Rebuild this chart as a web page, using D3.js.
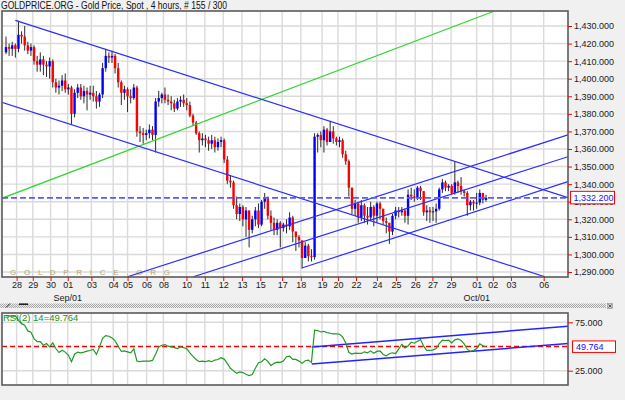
<!DOCTYPE html>
<html>
<head>
<meta charset="utf-8">
<script src="https://cdn.jsdelivr.net/npm/d3@7"></script>
<style>
  html, body { margin: 0; padding: 0; background: #f0f0f0; }
  svg { display: block; font-family: "Liberation Sans", Arial, sans-serif; }
</style>
</head>
<body>
<svg id="chart" width="625" height="400"></svg>
<script>
// ---- data (4h gold spot bars) ----
const firstOpen = 1415;
const closes = [
  1418, 1417, 1419, 1417, 1425, 1424, 1419, 1416, 1418, 1410,
  1408, 1411, 1408, 1407, 1410, 1398, 1395, 1396, 1399, 1394,
  1395, 1380, 1392, 1395, 1390, 1393, 1391, 1392, 1390, 1387,
  1391, 1406, 1413, 1412, 1413, 1406, 1398, 1392, 1394, 1390,
  1389, 1395, 1370, 1369, 1368, 1369, 1371, 1368, 1387, 1389,
  1391, 1388, 1387, 1386, 1383, 1387, 1388, 1386, 1385, 1379,
  1375, 1369, 1365, 1366, 1365, 1363, 1365, 1361, 1364, 1365,
  1354, 1342, 1341, 1328, 1323, 1327, 1320, 1325, 1314, 1320,
  1325, 1317, 1330, 1332, 1322, 1318, 1314, 1318, 1315, 1317,
  1316, 1321, 1313, 1310, 1308, 1298, 1305, 1299, 1298.5, 1367,
  1368, 1365, 1371, 1364, 1370, 1366, 1364, 1365, 1357, 1353,
  1338, 1326, 1329, 1321, 1328, 1322, 1321, 1327, 1322, 1329,
  1326, 1319, 1318, 1313, 1322, 1325, 1324, 1325, 1322, 1334,
  1333, 1332, 1338, 1336, 1324, 1325, 1324, 1324.5, 1326, 1337,
  1341, 1338, 1339, 1335, 1341, 1339, 1336, 1335, 1328, 1330,
  1329, 1329.5, 1335, 1331, 1332.2
];
const highs = [
  1424, 1420, 1421, 1420, 1433, 1427, 1430, 1421, 1420, 1419,
  1413, 1415, 1413, 1410, 1412, 1411, 1400, 1399, 1402, 1403,
  1397, 1396, 1394, 1397, 1397, 1396, 1395, 1396, 1396, 1393,
  1392, 1409, 1417, 1415, 1416, 1414, 1409, 1399, 1396, 1395,
  1394, 1397, 1396, 1373, 1372, 1371, 1374, 1373, 1389, 1393,
  1392, 1395, 1391, 1390, 1388, 1389, 1390, 1391, 1389, 1387,
  1380, 1376, 1370, 1369, 1368, 1367, 1368, 1367, 1366, 1367,
  1366, 1356, 1345, 1342, 1333, 1329, 1328, 1327, 1325, 1322,
  1327, 1329, 1331, 1335, 1333, 1325, 1321, 1320, 1319, 1318,
  1320, 1324, 1322, 1313, 1311, 1308, 1307, 1306, 1303, 1369,
  1369, 1370, 1373, 1372, 1376, 1373, 1367, 1367, 1366, 1359,
  1354, 1338, 1331, 1330, 1331, 1329, 1327, 1330, 1328, 1330,
  1330, 1326, 1321, 1318, 1323, 1327, 1327, 1327, 1326, 1337,
  1338, 1337, 1339, 1339, 1336, 1328, 1327, 1327, 1329, 1338,
  1343, 1342, 1340, 1340, 1353, 1342, 1344, 1337, 1336, 1331,
  1331, 1335, 1337, 1335, 1334
];
const lows = [
  1414, 1413, 1413, 1412, 1415, 1420, 1416, 1414, 1413, 1408,
  1404, 1404, 1402, 1401, 1400, 1395, 1392, 1391, 1393, 1392,
  1391, 1374, 1378, 1389, 1388, 1386, 1382, 1388, 1387, 1383,
  1384, 1389, 1404, 1409, 1409, 1403, 1395, 1385, 1388, 1381,
  1386, 1388, 1367, 1364, 1363, 1365, 1366, 1365, 1358, 1384,
  1386, 1386, 1385, 1382, 1381, 1382, 1384, 1384, 1382, 1378,
  1373, 1368, 1358, 1362, 1361, 1359, 1360, 1358, 1359, 1361,
  1352, 1340, 1338, 1326, 1320, 1319, 1316, 1310, 1304, 1312,
  1316, 1315, 1316, 1326, 1320, 1314, 1311, 1311, 1304, 1313,
  1312, 1314, 1307, 1302, 1304, 1292, 1298, 1296, 1296, 1297,
  1358, 1361, 1358, 1362, 1364, 1363, 1362, 1361, 1355, 1351,
  1333, 1323, 1322, 1318, 1319, 1318, 1317, 1319, 1316, 1318,
  1320, 1317, 1312, 1306, 1311, 1320, 1321, 1322, 1318, 1317,
  1331, 1330, 1331, 1331, 1322, 1319, 1318, 1319, 1318, 1325,
  1335, 1336, 1336, 1334, 1334, 1335, 1334, 1333, 1322, 1325,
  1325, 1326, 1328, 1329, 1330
];
const rsiValues = [
  81.7, 81.7, 81.4, 81.7, 77.0, 73.6, 71.9, 66.1, 64.7, 58.2,
  55.1, 55.1, 51.3, 53.1, 49.6, 53.7, 47.9, 43.8, 46.2, 44.2,
  41.1, 34.3, 42.1, 44.2, 43.5, 44.2, 45.2, 45.9, 46.9, 41.8,
  49.6, 58.5, 61.3, 60.6, 58.9, 55.8, 50.3, 44.9, 45.5, 44.5,
  43.5, 47.6, 35.0, 34.3, 34.9, 34.9, 34.9, 35.6, 42.1, 49.6,
  51.3, 52.0, 50.3, 49.6, 48.9, 47.9, 49.6, 48.9, 47.6, 43.5,
  39.8, 36.6, 34.3, 34.9, 34.3, 35.3, 34.3, 36.0, 36.6, 38.4,
  37.0, 32.6, 27.5, 24.8, 22.4, 23.8, 23.1, 21.4, 20.0, 21.0,
  27.5, 33.2, 34.3, 37.3, 34.6, 30.2, 32.6, 33.9, 33.6, 34.9,
  39.4, 40.1, 36.6, 36.6, 34.9, 32.6, 35.3, 36.0, 33.6, 66.8,
  66.5, 65.0, 65.7, 64.3, 63.7, 63.0, 63.0, 62.7, 59.9, 53.7,
  43.8, 42.1, 43.1, 42.8, 42.8, 44.5, 43.5, 45.5, 43.1, 44.9,
  45.5, 41.8, 40.4, 42.5, 43.5, 42.8, 47.2, 52.4, 48.6, 50.6,
  54.4, 53.4, 55.4, 57.2, 50.3, 45.9, 45.9, 46.5, 47.9, 53.1,
  56.5, 56.2, 56.5, 53.7, 56.9, 57.9, 56.2, 52.7, 47.2, 44.9,
  45.9, 47.9, 52.7, 50.8, 49.764
];

const priceTicks = [1290, 1300, 1310, 1320, 1330, 1340, 1350, 1360, 1370, 1380, 1390, 1400, 1410, 1420, 1430];
const rsiTicks = [25, 75];
const dayLabels = ["28", "29", "30", "01", "03", "04", "05", "06", "08", "10", "11", "12", "13", "15",
  "17", "18", "19", "20", "22", "24", "25", "26", "27", "29", "01", "02", "03", "06"];
const dayBars = [3.4, 8.6, 14.3, 19.8, 27.4, 34.4, 39.0, 45.1, 50.5, 57.9, 63.8, 69.7, 75.7, 81.6,
  88.6, 94.6, 101.4, 106.5, 112.3, 119.0, 125.1, 131.3, 136.8, 142.8, 151.0, 156.2, 162.0, 172.5];
const monthLabels = ["Sep/01", "Oct/01"];
const monthBars = [19.8, 151.0];
const lastPrice = 1332.2;
const lastRsi = 49.764;

// drawn trend lines, as [bar, value] pairs
const channelLines = [
  [[3.0, 1433.2], [180.3, 1332.3]],
  [[-1.4, 1386.6], [172.9, 1287.3]],
  [[39.0, 1287.3], [180.3, 1368.0]],
  [[60.1, 1287.3], [180.3, 1355.6]],
  [[94.9, 1292.3], [180.3, 1341.4]]
];
const greenLine = [[-1.4, 1331.9], [156.1, 1438.1]];
const rsiChannel = [
  [[98.1, 49.6], [180.4, 70.9]],
  [[98.1, 31.8], [180.4, 53.1]]
];

// ---- layout ----
const mainBox = { left: 2, right: 568, top: 11, bottom: 277 };
const rsiBox = { left: 2, right: 568, top: 313, bottom: 385 };

const x = d3.scaleLinear().domain([0, 154]).range([6, 486]);
const y = d3.scaleLinear().domain([1290, 1430]).range([272, 26]);
const ry = d3.scaleLinear().domain([25, 75]).range([370.7, 322.3]);

const svg = d3.select("#chart");
svg.append("rect").attr("width", 625).attr("height", 400).attr("fill", "#f0f0f0");

const defs = svg.append("defs");
defs.append("clipPath").attr("id", "clipMain").append("rect")
  .attr("x", mainBox.left).attr("y", mainBox.top)
  .attr("width", mainBox.right - mainBox.left).attr("height", mainBox.bottom - mainBox.top);
defs.append("clipPath").attr("id", "clipRsi").append("rect")
  .attr("x", rsiBox.left).attr("y", rsiBox.top)
  .attr("width", rsiBox.right - rsiBox.left).attr("height", rsiBox.bottom - rsiBox.top);
const pat = defs.append("pattern").attr("id", "dots")
  .attr("width", 2).attr("height", 2).attr("patternUnits", "userSpaceOnUse");
pat.append("rect").attr("width", 2).attr("height", 2).attr("fill", "#ececec");
pat.append("rect").attr("width", 1).attr("height", 1).attr("fill", "#a8a8a8");
pat.append("rect").attr("x", 1).attr("y", 1).attr("width", 1).attr("height", 1).attr("fill", "#a8a8a8");

// title
svg.append("text")
  .attr("x", 1).attr("y", 9)
  .attr("font-size", 10).attr("fill", "#111")
  .attr("textLength", 226).attr("lengthAdjust", "spacingAndGlyphs")
  .text("GOLDPRICE.ORG - Gold Price, Spot , 4 hours, # 155 / 300");

// ---- main panel ----
svg.append("rect")
  .attr("x", mainBox.left).attr("y", mainBox.top)
  .attr("width", mainBox.right - mainBox.left).attr("height", mainBox.bottom - mainBox.top)
  .attr("fill", "#fff");

const gMain = svg.append("g").attr("clip-path", "url(#clipMain)");

gMain.selectAll(".hgrid").data(priceTicks).join("line")
  .attr("x1", mainBox.left).attr("x2", mainBox.right)
  .attr("y1", d => y(d)).attr("y2", d => y(d))
  .attr("stroke", "#dadada").attr("stroke-width", 1.4);
gMain.selectAll(".vgrid").data(dayBars).join("line")
  .attr("x1", d => x(d)).attr("x2", d => x(d))
  .attr("y1", mainBox.top).attr("y2", mainBox.bottom)
  .attr("stroke", "#dadada").attr("stroke-width", 1.4);

// watermark
gMain.append("text")
  .attr("x", 10).attr("y", 274.5)
  .attr("font-size", 8).attr("fill", "#b3a46e")
  .attr("textLength", 160).attr("lengthAdjust", "spacing")
  .text("G O L D P R I C E . O R G");

// candles
const bars = closes.map((c, i) => ({
  i,
  o: i === 0 ? firstOpen : closes[i - 1],
  c,
  h: highs[i],
  l: lows[i]
}));

const gBars = gMain.append("g");
gBars.selectAll(".wick").data(bars).join("line")
  .attr("x1", d => x(d.i)).attr("x2", d => x(d.i))
  .attr("y1", d => y(Math.max(d.h, d.o, d.c)))
  .attr("y2", d => y(Math.min(d.l, d.o, d.c)))
  .attr("stroke", "#2a2a2a").attr("stroke-width", 1);
gBars.selectAll(".body").data(bars).join("rect")
  .attr("x", d => x(d.i) - 1.2)
  .attr("width", 2.4)
  .attr("y", d => y(Math.max(d.o, d.c)))
  .attr("height", d => Math.max(1, Math.abs(y(d.o) - y(d.c))))
  .attr("fill", d => d.c >= d.o ? "#0000ff" : "#ff0000");

// trend lines
gMain.append("line")
  .attr("x1", x(greenLine[0][0])).attr("y1", y(greenLine[0][1]))
  .attr("x2", x(greenLine[1][0])).attr("y2", y(greenLine[1][1]))
  .attr("stroke", "#2fd52f").attr("stroke-width", 1.2);

gMain.selectAll(".chan").data(channelLines).join("line")
  .attr("x1", d => x(d[0][0])).attr("y1", d => y(d[0][1]))
  .attr("x2", d => x(d[1][0])).attr("y2", d => y(d[1][1]))
  .attr("stroke", "#2c2cff").attr("stroke-width", 1.2);

gMain.append("line")
  .attr("x1", mainBox.left).attr("x2", mainBox.right)
  .attr("y1", y(lastPrice)).attr("y2", y(lastPrice))
  .attr("stroke", "#5a5aff").attr("stroke-width", 1.6)
  .attr("stroke-dasharray", "6,3");

svg.append("rect")
  .attr("x", mainBox.left).attr("y", mainBox.top)
  .attr("width", mainBox.right - mainBox.left).attr("height", mainBox.bottom - mainBox.top)
  .attr("fill", "none").attr("stroke", "#5a5a5a").attr("stroke-width", 1.6);

// price axis
const yAxis = svg.append("g")
  .attr("transform", `translate(${mainBox.right},0)`)
  .call(d3.axisRight(y).tickValues(priceTicks).tickFormat(d3.format(",.3f"))
    .tickSize(4).tickPadding(2));
yAxis.select(".domain").remove();
yAxis.selectAll(".tick line").attr("stroke", "#ff0000");
yAxis.selectAll(".tick text").attr("fill", "#1a1a1a").attr("font-size", 9)
  .attr("font-family", "'Liberation Sans', Arial, sans-serif");

// last price box
svg.append("rect")
  .attr("x", 570.5).attr("y", y(lastPrice) - 6.5)
  .attr("width", 44).attr("height", 12.5)
  .attr("fill", "#fff").attr("stroke", "#ff0000").attr("stroke-width", 1);
svg.append("text")
  .attr("x", 573.5).attr("y", y(lastPrice) + 3.3)
  .attr("font-size", 9).attr("fill", "#1010ff")
  .text(d3.format(",.3f")(lastPrice));

// date axis
const xAxis = svg.append("g")
  .attr("transform", `translate(0,${mainBox.bottom})`)
  .call(d3.axisBottom(x).tickValues(dayBars).tickFormat((d, i) => dayLabels[i])
    .tickSize(4).tickPadding(1));
xAxis.select(".domain").remove();
xAxis.selectAll(".tick line").attr("stroke", "#ff0000");
xAxis.selectAll(".tick text").attr("fill", "#1a1a1a").attr("font-size", 9)
  .attr("font-family", "'Liberation Sans', Arial, sans-serif");

svg.selectAll(".month").data(monthLabels).join("text")
  .attr("x", (d, i) => x(monthBars[i])).attr("y", 301)
  .attr("text-anchor", "middle")
  .attr("font-size", 9).attr("fill", "#1a1a1a")
  .text(d => d);

// separator strip
svg.append("rect").attr("x", 0).attr("y", 303.5).attr("width", 606).attr("height", 4.5)
  .attr("fill", "url(#dots)");
svg.append("path").attr("d", "M6,307.5 L10,303.5").attr("stroke", "#222").attr("stroke-width", 1);
svg.append("path").attr("d", "M19,304.2 H28").attr("stroke", "#222").attr("stroke-width", 1.6);
svg.append("rect").attr("x", 607.5).attr("y", 303.5).attr("width", 5).attr("height", 5)
  .attr("fill", "#d0d0d0").attr("stroke", "#888").attr("stroke-width", 0.6);
svg.append("path").attr("d", "M608.5,304.5 L611.5,307.5 M611.5,304.5 L608.5,307.5")
  .attr("stroke", "#333").attr("stroke-width", 0.8);

// ---- RSI panel ----
svg.append("rect")
  .attr("x", rsiBox.left).attr("y", rsiBox.top)
  .attr("width", rsiBox.right - rsiBox.left).attr("height", rsiBox.bottom - rsiBox.top)
  .attr("fill", "#fff");

const gRsi = svg.append("g").attr("clip-path", "url(#clipRsi)");
gRsi.selectAll(".rh").data(rsiTicks).join("line")
  .attr("x1", rsiBox.left).attr("x2", rsiBox.right)
  .attr("y1", d => ry(d)).attr("y2", d => ry(d))
  .attr("stroke", "#dadada").attr("stroke-width", 1.4);
gRsi.selectAll(".rv").data(dayBars).join("line")
  .attr("x1", d => x(d)).attr("x2", d => x(d))
  .attr("y1", rsiBox.top).attr("y2", rsiBox.bottom)
  .attr("stroke", "#dadada").attr("stroke-width", 1.4);

gRsi.append("line")
  .attr("x1", rsiBox.left).attr("x2", rsiBox.right)
  .attr("y1", ry(50)).attr("y2", ry(50))
  .attr("stroke", "#ff0000").attr("stroke-width", 1.4)
  .attr("stroke-dasharray", "5,3");

gRsi.selectAll(".rc").data(rsiChannel).join("line")
  .attr("x1", d => x(d[0][0])).attr("y1", d => ry(d[0][1]))
  .attr("x2", d => x(d[1][0])).attr("y2", d => ry(d[1][1]))
  .attr("stroke", "#2323ff").attr("stroke-width", 1.5);

gRsi.append("path")
  .datum(rsiValues)
  .attr("fill", "none")
  .attr("stroke", "#1f9a28").attr("stroke-width", 1.2)
  .attr("d", d3.line().x((d, i) => x(i)).y(d => ry(d)));

svg.append("text")
  .attr("x", 3).attr("y", 321)
  .attr("font-size", 9.5).attr("fill", "#1e8c1e")
  .text("RSI(2) 14=" + lastRsi);

svg.append("rect")
  .attr("x", rsiBox.left).attr("y", rsiBox.top)
  .attr("width", rsiBox.right - rsiBox.left).attr("height", rsiBox.bottom - rsiBox.top)
  .attr("fill", "none").attr("stroke", "#5a5a5a").attr("stroke-width", 1.6);

const rAxis = svg.append("g")
  .attr("transform", `translate(${rsiBox.right},0)`)
  .call(d3.axisRight(ry).tickValues(rsiTicks).tickFormat(d3.format(".3f"))
    .tickSize(5).tickPadding(2));
rAxis.select(".domain").remove();
rAxis.selectAll(".tick line").attr("stroke", "#ff0000");
rAxis.selectAll(".tick text").attr("fill", "#1a1a1a").attr("font-size", 9)
  .attr("font-family", "'Liberation Sans', Arial, sans-serif");

svg.append("rect")
  .attr("x", 572.5).attr("y", ry(lastRsi) - 5.8)
  .attr("width", 43).attr("height", 11.5)
  .attr("fill", "#fff").attr("stroke", "#ff0000").attr("stroke-width", 1);
svg.append("text")
  .attr("x", 576).attr("y", ry(lastRsi) + 3.3)
  .attr("font-size", 9).attr("fill", "#1010ff")
  .text(d3.format(".3f")(lastRsi));
</script>
</body>
</html>
